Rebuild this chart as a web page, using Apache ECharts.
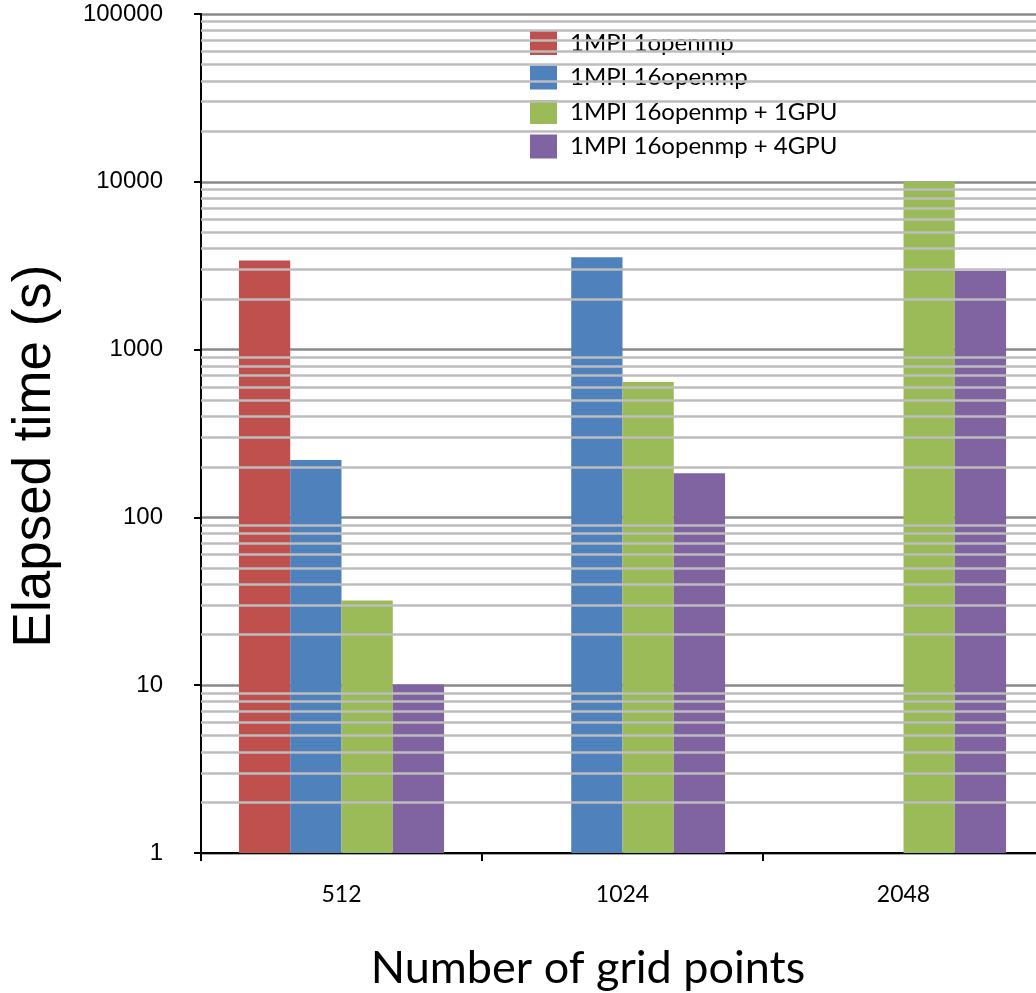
<!DOCTYPE html>
<html>
<head>
<meta charset="utf-8">
<script src="https://cdn.jsdelivr.net/npm/echarts@6/dist/echarts.min.js"></script>
<style>
html,body{margin:0;padding:0;background:#fff;}
#chart{width:1036px;height:993px;}
</style>
</head>
<body>
<div id="chart"></div>
<script>
const categories = ['512', '1024', '2048'];
const seriesNames = ['1MPI 1openmp', '1MPI 16openmp', '1MPI 16openmp + 1GPU', '1MPI 16openmp + 4GPU'];
const mpi1omp1 = [3400, null, null];
const mpi1omp16 = [220, 3550, null];
const mpi1omp16gpu1 = [32, 640, 10000];
const mpi1omp16gpu4 = [10.1, 183, 2950];
const yTickLabels = ['1', '10', '100', '1000', '10000', '100000'];
const decades = [1, 10, 100, 1000, 10000];
const minorMultipliers = [2, 3, 4, 5, 6, 7, 8, 9];
const colors = ['#C0504D', '#4F81BD', '#9BBB59', '#8064A2'];

const minorLines = [];
decades.forEach(d => minorMultipliers.forEach(m => minorLines.push({ yAxis: d * m })));

const values = [mpi1omp1, mpi1omp16, mpi1omp16gpu1, mpi1omp16gpu4];
const barSeries = seriesNames.map((name, i) => ({
  name: name,
  type: 'bar',
  data: values[i],
  barGap: '0%',
  barCategoryGap: '27%',
  itemStyle: { color: colors[i] },
  z: 3
}));

const chart = echarts.init(document.getElementById('chart'));
chart.setOption({
  animation: false,
  backgroundColor: '#fff',
  grid: { left: 201, top: 14, height: 839, width: 843, containLabel: false, outerBoundsMode: 'none' },
  legend: {
    data: seriesNames,
    orient: 'vertical',
    left: 530,
    top: 31,
    padding: 0,
    itemWidth: 27,
    itemHeight: 24,
    itemGap: 10.5,
    icon: 'rect',
    textStyle: { fontFamily: 'Lato', fontSize: 24, color: '#000', padding: [0, 0, 0, 8] }
  },
  xAxis: {
    type: 'category',
    data: categories,
    axisLine: { lineStyle: { color: '#000', width: 2 } },
    axisTick: { show: true, length: 8, interval: 0, lineStyle: { color: '#000', width: 2 } },
    axisLabel: { fontFamily: 'Lato', fontSize: 23, color: '#000', margin: 30 },
    splitLine: { show: false }
  },
  yAxis: {
    type: 'log',
    logBase: 10,
    min: 1,
    max: 100000,
    axisLine: { show: true, lineStyle: { color: '#000', width: 2 } },
    axisTick: { show: true, length: 7, lineStyle: { color: '#000', width: 2 } },
    axisLabel: {
      fontFamily: 'Liberation Sans', fontSize: 24, color: '#000', margin: 38,
      formatter: function (v) {
        const s = String(Math.round(v));
        return yTickLabels.indexOf(s) >= 0 ? s : '';
      }
    },
    splitLine: { show: true, lineStyle: { color: '#8a8a8a', width: 2.5 } }
  },
  graphic: [
    {
      type: 'text',
      x: 35, y: 456,
      rotation: Math.PI / 2,
      style: { text: 'Elapsed time (s)', font: '53px "Liberation Sans"', fill: '#000', textAlign: 'center', textVerticalAlign: 'middle' }
    },
    {
      type: 'text',
      x: 588, y: 968,
      style: { text: 'Number of grid points', font: '45px Lato', fill: '#000', textAlign: 'center', textVerticalAlign: 'middle' }
    }
  ],
  series: [
    {
      name: 'minor-grid',
      type: 'line',
      data: [null, null, null],
      symbol: 'none',
      silent: true,
      z: 1,
      markLine: {
        silent: true,
        symbol: ['none', 'none'],
        label: { show: false },
        lineStyle: { color: '#bdbdbd', width: 2.5, type: 'solid' },
        emphasis: { disabled: true },
        data: minorLines
      }
    }
  ].concat(barSeries)
});
</script>
</body>
</html>
